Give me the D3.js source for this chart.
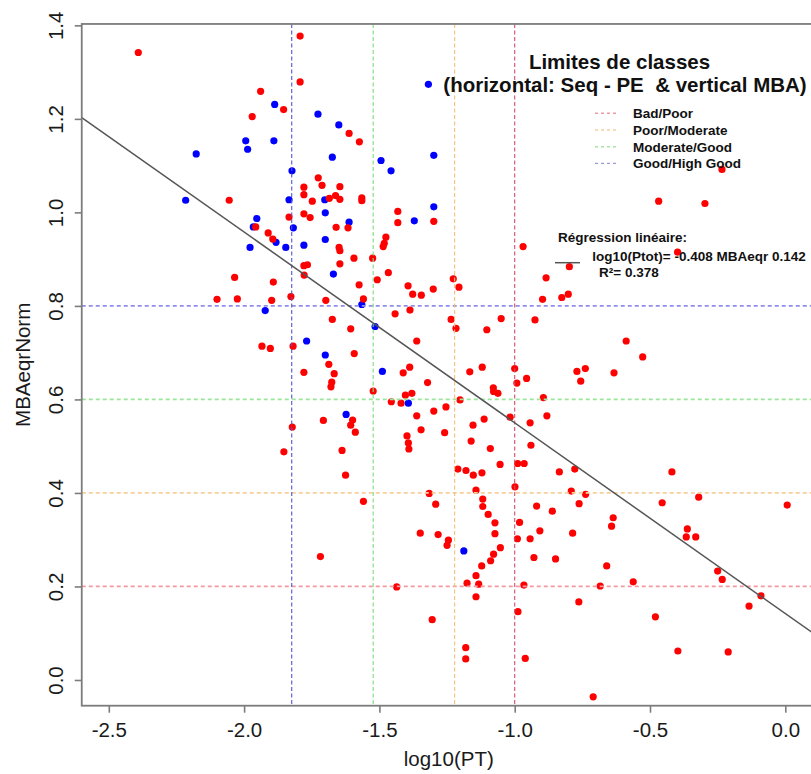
<!DOCTYPE html>
<html>
<head>
<meta charset="utf-8">
<script src="https://cdn.jsdelivr.net/npm/d3@7"></script>
<style>
  html, body { margin: 0; padding: 0; background: #fff; }
  svg { display: block; font-family: "Liberation Sans", Arial, sans-serif; }
  text { white-space: pre; }
</style>
</head>
<body>
<svg id="chart" width="811" height="774"></svg>
<script>
// Sites classified as not meeting the MBA target (red) and meeting it (blue): [log10(PT), MBAeqrNorm]
const redPoints = [
  [-2.391,1.342],[-1.939,1.259],[-1.854,1.220],[-1.970,1.205],[-2.055,1.026],[-1.834,0.990],
  [-1.957,0.969],[-1.911,0.956],[-1.894,0.943],[-1.793,1.377],[-1.793,1.279],[-1.612,1.169],
  [-1.574,1.151],[-1.726,1.074],[-1.712,1.058],[-1.779,1.054],[-1.646,1.055],[-1.779,1.038],
  [-1.662,1.036],[-1.646,1.028],[-1.685,1.030],[-1.748,1.024],[-1.565,1.031],[-1.565,1.025],
  [-1.779,0.997],[-1.756,0.989],[-1.616,0.967],[-1.660,0.968],[-1.432,1.002],[-1.432,0.978],
  [-1.299,0.981],[-1.649,0.925],[-1.646,0.918],[-1.476,0.947],[-1.482,0.934],[-1.486,0.927],
  [-0.969,0.927],[-1.594,0.902],[-1.525,0.902],[-0.234,1.092],[-0.468,1.024],[-0.297,1.019],
  [-0.398,0.915],[-0.798,0.884],[-0.884,0.860],[-0.826,0.818],[-0.802,0.825],[-0.897,0.814],
  [-0.925,0.770],[-0.588,0.725],[-0.527,0.691],[-0.770,0.660],[-0.739,0.666],[-0.756,0.639],
  [-0.633,0.657],[-0.894,0.604],[-0.881,0.565],[-0.943,0.550],[-0.940,0.502],[-0.835,0.445],
  [-0.778,0.451],[-0.419,0.445],[-0.791,0.404],[-0.738,0.397],[-0.919,0.372],[-0.861,0.361],
  [-0.762,0.377],[-0.455,0.379],[-0.320,0.391],[0.007,0.374],[-0.636,0.347],[-0.642,0.329],
  [-0.907,0.319],[-0.786,0.314],[-0.362,0.323],[-0.366,0.306],[-0.331,0.306],[-0.943,0.302],
  [-0.929,0.262],[-0.849,0.259],[-0.660,0.244],[-0.250,0.233],[-0.233,0.215],[-0.684,0.201],
  [-0.562,0.210],[-0.763,0.167],[-0.090,0.180],[-0.134,0.158],[-0.480,0.135],[-0.397,0.062],
  [-0.211,0.060],[-0.710,-0.036],[-1.779,0.886],[-1.766,0.888],[-1.646,0.890],[-1.778,0.866],
  [-1.467,0.871],[-1.508,0.856],[-1.575,0.845],[-1.394,0.843],[-1.301,0.836],[-1.227,0.858],
  [-1.206,0.840],[-1.377,0.825],[-1.345,0.823],[-1.827,0.820],[-1.698,0.812],[-1.559,0.815],
  [-1.442,0.783],[-1.387,0.791],[-1.674,0.771],[-1.235,0.771],[-1.606,0.751],[-1.217,0.752],
  [-1.050,0.773],[-1.103,0.749],[-1.362,0.725],[-1.819,0.714],[-1.593,0.698],[-1.687,0.675],
  [-1.779,0.658],[-1.667,0.655],[-1.412,0.657],[-1.388,0.669],[-1.676,0.637],[-1.679,0.627],
  [-1.322,0.636],[-1.166,0.659],[-1.120,0.669],[-1.000,0.666],[-0.956,0.645],[-0.992,0.635],
  [-1.079,0.625],[-1.078,0.617],[-1.062,0.613],[-1.523,0.618],[-1.404,0.609],[-1.380,0.613],
  [-1.456,0.595],[-1.420,0.592],[-1.202,0.599],[-1.707,0.555],[-1.606,0.545],[-1.599,0.556],
  [-1.589,0.530],[-1.822,0.541],[-1.362,0.565],[-1.299,0.575],[-1.254,0.584],[-1.113,0.558],
  [-1.154,0.545],[-1.017,0.562],[-1.346,0.535],[-1.259,0.529],[-1.398,0.522],[-1.393,0.507],
  [-1.391,0.494],[-1.161,0.511],[-1.090,0.495],[-1.054,0.461],[-0.989,0.463],[-0.965,0.463],
  [-1.638,0.491],[-1.853,0.488],[-1.625,0.438],[-1.210,0.451],[-1.180,0.448],[-1.153,0.438],
  [-1.121,0.443],[-0.999,0.413],[-1.143,0.406],[-1.316,0.399],[-1.292,0.376],[-1.118,0.387],
  [-1.118,0.371],[-1.559,0.382],[-2.035,0.861],[-1.892,0.851],[-2.100,0.814],[-2.025,0.815],
  [-1.898,0.812],[-1.934,0.714],[-1.903,0.709],[-1.098,0.354],[-1.073,0.336],[-1.073,0.313],
  [-1.053,0.283],[-1.078,0.269],[-1.089,0.255],[-1.122,0.244],[-1.143,0.223],[-1.133,0.205],
  [-1.176,0.207],[-1.143,0.178],[-1.349,0.314],[-1.283,0.311],[-1.245,0.299],[-1.250,0.288],
  [-1.718,0.264],[-1.436,0.199],[-1.305,0.129],[-1.181,0.069],[-1.181,0.045],[-0.982,0.337],
  [-0.990,0.302],[-0.966,0.203],[-0.988,0.146],[-0.961,0.046]
];
const bluePoints = [
  [-1.887,1.231],[-1.994,1.153],[-1.890,1.153],[-1.987,1.135],[-2.177,1.125],[-1.823,1.089],
  [-2.216,1.026],[-1.834,1.027],[-1.953,0.987],[-1.818,0.967],[-1.966,0.969],[-1.882,0.936],
  [-1.978,0.925],[-1.846,0.925],[-1.727,1.210],[-1.650,1.187],[-1.674,1.118],[-1.494,1.111],
  [-1.299,1.122],[-1.457,1.089],[-1.702,1.027],[-1.700,0.999],[-1.299,1.012],[-1.612,0.979],
  [-1.371,0.982],[-1.700,0.942],[-1.779,0.930],[-1.670,0.868],[-1.565,0.803],[-1.516,0.756],
  [-1.769,0.725],[-1.700,0.695],[-1.489,0.660],[-1.393,0.592],[-1.623,0.568],[-1.922,0.790],
  [-1.188,0.276],[-1.319,1.274]
];

// Class limits: horizontal on MBAeqrNorm, vertical on log10(PT)
const classNames = ["Bad/Poor", "Poor/Moderate", "Moderate/Good", "Good/High Good"];
const hLimits = [0.2, 0.4, 0.6, 0.8];
const vLimits = [-1.0, -1.222, -1.523, -1.824];

// Linear fit shown in the legend
const fitSlope = -0.408;
const fitIntercept = 0.142;
const fitR2 = 0.378;

const xTicks = [-2.5, -2.0, -1.5, -1.0, -0.5, 0.0];
const yTicks = [0.0, 0.2, 0.4, 0.6, 0.8, 1.0, 1.2, 1.4];

const svg = d3.select("#chart");
const padLeft = 81.74, padTop = 23.96, padBottom = 705.7;

const x = d3.scaleLinear().domain([-2.6, 0.12]).range([padLeft, padLeft + 2.72 * 270.6]);
const y = d3.scaleLinear().domain([-0.055, 1.403]).range([padBottom, padTop]);
const padRight = x.range()[1];

const limitColorsH = ["#f29aa4", "#f6cf9a", "#9be69b", "#8e8ee8"];
const limitColorsV = ["#cf4e6c", "#f2c07a", "#7ddc7d", "#5454cc"];
const legendColors = ["#ee9aa8", "#f5d29e", "#a8e6a8", "#9a9ae0"];

svg.append("defs").append("clipPath").attr("id", "plotClip")
  .append("rect").attr("x", padLeft).attr("y", padTop)
  .attr("width", padRight - padLeft).attr("height", padBottom - padTop);

const plot = svg.append("g").attr("clip-path", "url(#plotClip)");

// points
plot.append("g").selectAll("circle").data(bluePoints).join("circle")
  .attr("cx", d => x(d[0])).attr("cy", d => y(d[1])).attr("r", 3.6)
  .attr("fill", "#0000ff");
plot.append("g").selectAll("circle").data(redPoints).join("circle")
  .attr("cx", d => x(d[0])).attr("cy", d => y(d[1])).attr("r", 3.6)
  .attr("fill", "#ff0000");

// class limit lines
plot.append("g").selectAll("line").data(hLimits).join("line")
  .attr("x1", padLeft).attr("x2", padRight)
  .attr("y1", d => y(d)).attr("y2", d => y(d))
  .attr("stroke", (d, i) => limitColorsH[i]).attr("stroke-width", 1.8)
  .attr("stroke-dasharray", "4,3");
plot.append("g").selectAll("line").data(vLimits).join("line")
  .attr("x1", d => x(d)).attr("x2", d => x(d))
  .attr("y1", padTop).attr("y2", padBottom)
  .attr("stroke", (d, i) => limitColorsV[i]).attr("stroke-width", 1.1)
  .attr("stroke-dasharray", "4,2.5");

// regression line
const xd = x.domain();
plot.append("line")
  .attr("x1", x(xd[0])).attr("y1", y(fitIntercept + fitSlope * xd[0]))
  .attr("x2", x(xd[1])).attr("y2", y(fitIntercept + fitSlope * xd[1]))
  .attr("stroke", "#555").attr("stroke-width", 1.5);

// frame
svg.append("rect").attr("x", padLeft).attr("y", padTop)
  .attr("width", padRight - padLeft).attr("height", padBottom - padTop)
  .attr("fill", "none").attr("stroke", "#7c7c7c").attr("stroke-width", 1.8);

// axes
const axisColor = "#7c7c7c";
const fmt = d => d.toFixed(1);
const xAxis = svg.append("g").attr("transform", `translate(0,${padBottom})`)
  .call(d3.axisBottom(x).tickValues(xTicks).tickFormat(fmt).tickSize(7).tickSizeOuter(0));
const yAxis = svg.append("g").attr("transform", `translate(${padLeft},0)`)
  .call(d3.axisLeft(y).tickValues(yTicks).tickFormat(fmt).tickSize(7).tickSizeOuter(0));
[xAxis, yAxis].forEach(a => {
  a.select(".domain").remove();
  a.selectAll(".tick line").attr("stroke", axisColor).attr("stroke-width", 1.6);
  a.selectAll(".tick text").attr("fill", "#1a1a1a")
    .style("font-size", "20.5px").style("font-family", "'Liberation Sans', Arial, sans-serif");
});
xAxis.selectAll(".tick text").attr("y", 31).attr("dy", 0);
yAxis.selectAll(".tick text")
  .attr("transform", "rotate(-90)").attr("x", 0).attr("y", -19).attr("dy", 0)
  .attr("text-anchor", "middle");

// axis titles, centred on the plotting region
svg.append("text").attr("x", (padLeft + padRight) / 2 - 1).attr("y", 766)
  .attr("text-anchor", "middle").attr("fill", "#1a1a1a")
  .style("font-size", "20.5px").text("log10(PT)");
svg.append("text").attr("transform", `translate(30,${(padTop + padBottom) / 2}) rotate(-90)`)
  .attr("text-anchor", "middle").attr("fill", "#1a1a1a")
  .style("font-size", "20.5px").text("MBAeqrNorm");

// class limits legend
const leg = svg.append("g").attr("fill", "#111").style("font-weight", "bold");
leg.append("text").attr("x", 619.5).attr("y", 68.5).attr("text-anchor", "middle")
  .style("font-size", "20.5px").text("Limites de classes");
leg.append("text").attr("x", 625).attr("y", 92).attr("text-anchor", "middle")
  .style("font-size", "20.5px").text("(horizontal: Seq - PE  & vertical MBA)");
const rows = leg.append("g").selectAll("g").data(classNames).join("g")
  .attr("transform", (d, i) => `translate(0,${113.3 + i * 16.7})`);
rows.append("line").attr("x1", 595).attr("x2", 619).attr("y1", 0).attr("y2", 0)
  .attr("stroke", (d, i) => legendColors[i]).attr("stroke-width", 1.4)
  .attr("stroke-dasharray", "3,3");
rows.append("text").attr("x", 633).attr("y", 4.8)
  .style("font-size", "13.5px").text(d => d);

// regression legend
const reg = svg.append("g").attr("fill", "#111").style("font-weight", "bold")
  .style("font-size", "13.5px");
reg.append("text").attr("x", 558).attr("y", 241.5).text("Régression linéaire:");
reg.append("line").attr("x1", 555).attr("x2", 580).attr("y1", 262.7).attr("y2", 262.7)
  .attr("stroke", "#555").attr("stroke-width", 1.5);
reg.append("text").attr("x", 592.3).attr("y", 261)
  .text(`log10(Ptot)= ${fitSlope.toFixed(3)} MBAeqr ${fitIntercept.toFixed(3)}`);
reg.append("text").attr("x", 599).attr("y", 276.5).text(`R²= ${fitR2.toFixed(3)}`);
</script>
</body>
</html>
